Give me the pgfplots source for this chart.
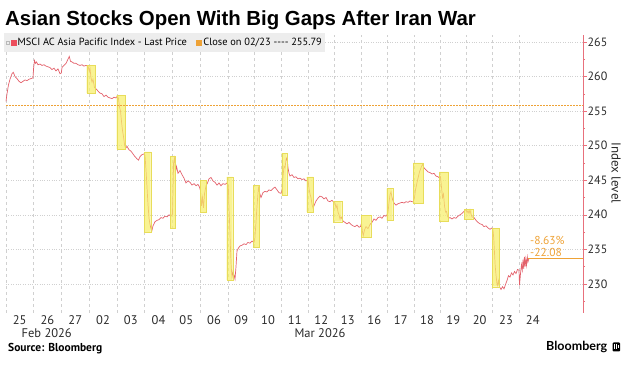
\documentclass[border=0pt]{standalone}
\usepackage{pgfplots}
\pgfplotsset{compat=1.18}
\usepackage{pgfplotstable}
\usepackage{fontspec}
\setmainfont{PT Sans}[Ligatures=NoCommon]
\newfontfamily\titlefont{Liberation Sans}
\newfontfamily\logofont{Lato}
\definecolor{linered}{HTML}{E3616B}
\definecolor{legendred}{HTML}{EC4E5C}
\definecolor{axisred}{HTML}{E8707C}
\definecolor{gapfill}{HTML}{F7EF6A}
\definecolor{gapedge}{HTML}{E8DD5A}
\definecolor{closeorange}{HTML}{EEA236}
\definecolor{gridgray}{HTML}{D0D0D0}
\definecolor{legendbg}{HTML}{EDEDED}
\definecolor{textgray}{HTML}{2A2A2A}

% x = time position (trading sessions laid side by side), y = index level
\pgfplotstableread{
x y
6 256.4
7 257.5
8.5 258.8
10 259.6
12 260.4
13.3 260.6
15 260.0
17 259.7
19 259.3
21 259.1
23 259.3
25 259.5
27 259.4
29 259.6
31 259.7
33 259.8
33.6 261.2
34.5 262.3
35.5 261.9
36.5 262.1
38 261.7
40 261.8
42 261.6
44 261.7
46 261.5
48 261.4
50 261.3
52 261.0
54 261.2
56 260.8
58 261.1
60 260.4
61.3 260.5
62 261.3
64 261.6
66 261.9
68 262.5
69.3 262.9
70.5 262.2
72 262.1
74 261.9
76 261.9
78 261.7
80 261.6
82 261.7
84 261.5
86 261.6
88 261.5
89.3 260.8
90 261.2
91 259.8
92 259.2
93 259.6
94.5 258.4
96 258.2
98 257.9
100 257.6
102 257.5
104 257.1
106 257.3
108 257.0
110 256.9
112 256.8
114 257.0
116 256.9
117.5 257.2
118.5 256.8
119.5 255.6
120.5 255.0
121.5 253.5
122.5 252.2
123.5 251.3
124.5 250.2
125.5 249.6
127 249.9
129 249.4
131 249.2
133 248.8
135 248.4
137 248.1
138.5 247.9
140 248.4
142 248.7
144 248.8
145 248.6
146 246.5
147 244.0
148 241.5
149 239.5
150 238.6
151 238.0
151.7 237.6
153 238.4
155 239.0
157 239.2
159 239.3
161 239.6
163 239.5
165 239.8
167 239.7
169 240.0
171 239.8
172.5 240.1
173.6 247.5
174.5 248.2
175.5 246.2
176.5 247.0
178 246.0
180 246.4
182 245.8
184 245.3
186 244.6
188 244.9
190 244.7
192 244.3
194 244.5
196 244.2
198 244.4
199.5 244.0
200.5 243.5
201.5 241.3
202.5 242.5
203.5 241.0
204.5 243.0
206 244.2
207.5 244.6
209 245.2
211 245.4
213 244.9
215 244.7
217 244.3
219 244.6
221 244.2
223 244.5
225 244.4
227 244.6
228.3 244.2
229 241.0
229.8 238.0
230.5 235.0
231.2 232.5
232 231.0
233 231.8
234 231.3
235 230.7
236 232.5
237 234.8
238.5 235.2
240 235.5
242 235.6
244 235.8
246 235.7
248 236.0
250 235.9
252 236.2
254 236.0
254.8 236.5
255.8 238.5
256.8 240.8
257.8 242.8
258.5 243.9
259.5 243.2
261 242.5
263 243.2
265 243.4
267 243.3
269 243.6
271 243.5
273 243.8
275 244.0
277 243.6
279 243.2
281 243.1
282 243.5
283 245.5
284 247.0
285 246.8
286 247.9
287 248.3
288 246.8
289 246.0
290 245.6
292 245.8
294 245.4
296 245.5
298 245.2
300 245.3
302 245.1
304 245.2
306 244.9
307.5 245.0
308.3 244.8
309 243.8
310 243.0
311 242.5
312 241.5
313 241.0
314 241.3
316 242.0
318 242.4
320 242.7
322 242.6
324 242.3
326 242.5
328 242.0
330 241.9
332 242.1
334 241.8
335 241.7
336 241.0
337 241.4
338 240.4
339 240.0
340 239.4
341 239.7
343 239.1
345 238.9
347 238.7
349 238.9
351 238.6
353 238.4
355 238.3
357 238.5
359 238.2
360.5 238.3
361.5 238.8
362.5 237.5
363.3 237.0
364.5 237.8
366 238.3
368 238.0
370 238.6
372 238.9
374 239.4
376 239.2
378 239.6
380 239.7
382 239.5
384 239.9
386 239.8
387 240.0
388 240.3
389 241.8
390 242.9
391 243.3
392 242.5
393 242.0
394 241.7
396 241.4
398 241.6
400 241.7
402 241.8
404 241.7
406 241.9
408 241.8
410 242.0
412 241.9
413.5 241.9
414.5 242.5
415.5 243.6
416.5 244.3
417.5 245.0
418.5 245.6
419.5 246.2
420.5 246.6
421.5 247.0
422.7 247.3
424 246.8
426 246.5
428 246.2
430 246.1
432 245.9
434 246.0
436 245.6
438 245.5
439.5 245.3
440.5 245.5
441.5 244.0
442.5 242.5
443.5 243.0
444.5 241.3
445.5 240.4
446.5 240.5
447.5 239.8
448.5 239.5
450 239.6
452 239.4
454 239.6
456 239.5
458 239.8
460 240.0
462 240.2
464 240.5
466 240.8
467 240.3
468 240.6
469 240.2
470 240.7
471 240.1
472 239.7
474 239.6
476 239.2
478 238.9
480 238.7
482 238.6
484 238.3
486 238.4
488 238.1
490 237.9
492 238.1
493 237.8
493.8 236.5
494.5 234.5
495.2 232.6
496 231.3
496.8 230.2
497.6 229.8
498.5 230.5
499.5 229.6
501 229.2
502.5 229.6
504 229.3
505.5 229.9
507 230.5
508.5 231.2
510 231.0
511.5 231.6
513 231.3
514.5 231.8
516 231.5
517.5 232.1
519 232.0
519.5 229.8
520.5 231.5
521.5 232.8
522.3 232.0
523 233.5
523.7 232.2
524.4 233.9
525.1 232.5
525.8 233.6
526.5 232.7
527.3 233.9
528 233.2
529 233.71
}\pricedata

\newcommand{\gapbox}[4]{\addplot[gapbox] coordinates {(#1,#3) (#2,#3) (#2,#4) (#1,#4) (#1,#3)};}

\begin{document}
\begin{tikzpicture}[x=1pt,y=1pt]
\path[use as bounding box] (0,0) rectangle (632,369);
\begin{axis}[
  at={(6pt,56pt)}, anchor=south west,
  scale only axis, width=577pt, height=278pt,
  xmin=6, xmax=583, ymin=225.8, ymax=266,
  axis line style={draw=none},
  clip=false,
  xtick={19.75,47.5,75.25,103,130.75,158.5,186.25,214,241.25,268,294.75,321.25,347.75,374.25,400.75,427,453.25,479.6,506,532.8},
  xticklabels={25,26,27,02,03,04,05,06,09,10,11,12,13,16,17,18,19,20,23,24},
  xtick style={draw=none},
  minor xtick={6,33.5,61.5,89,117,144.5,172.5,200,228,254.5,281.5,308,334.5,361,387.5,414,440,466.5,492.7,519.3},
  xminorgrids=true,
  minor x grid style={gridgray, dash pattern=on 3pt off 3pt, line width=0.5pt},
  ytick={230,235,...,265},
  minor ytick={227.5,232.5,...,262.5},
  ymajorgrids=true,
  major y grid style={gridgray, dotted, line width=0.5pt},
  ytick pos=right, yticklabel pos=right,
  ytick style={axisred, line width=0.5pt},
  tick align=outside,
  major tick length=3.5pt, minor tick length=2pt,
  /pgf/number format/assume math mode=true,
  yticklabel style={font=\fontsize{12}{12}\selectfont, text=textgray, inner xsep=1pt},
  xticklabel style={font=\fontsize{12.5}{12.5}\selectfont, text=textgray, yshift=4pt},
  legend style={at={(rel axis cs:0,1)}, anchor=north west, xshift=-2pt, yshift=2pt,
    fill=legendbg, draw=none, legend columns=2, font=\fontsize{10.4}{10.4}\selectfont,
    inner xsep=2pt, inner ysep=3pt,
    /tikz/every odd column/.append style={column sep=0pt},
    /tikz/every even column/.append style={column sep=8pt},
    nodes={inner xsep=1.5pt}},
  gapbox/.style={draw=gapedge, line width=0.4pt, fill=gapfill, fill opacity=0.72, forget plot},
]
\addplot[linered, line width=0.7pt, forget plot] table[x=x,y=y] {\pricedata};
\gapbox{86.7}{95}{261.6}{257.6}
\gapbox{116.7}{125.5}{257.3}{249.5}
\gapbox{144.3}{150.7}{249.1}{237.5}
\gapbox{170}{175.3}{248.5}{238.1}
\gapbox{200}{206.5}{245.0}{240.4}
\gapbox{226.7}{232.7}{245.5}{230.6}
\gapbox{253.3}{259.3}{244.3}{235.3}
\gapbox{281.7}{286.7}{248.9}{242.8}
\gapbox{306.7}{313.3}{245.5}{240.4}
\gapbox{333.3}{341.7}{241.9}{239.0}
\gapbox{361}{370.7}{239.9}{236.7}
\gapbox{386.7}{392.7}{243.8}{239.2}
\gapbox{413.3}{423.3}{247.5}{241.7}
\gapbox{439.3}{448.3}{246.2}{239.1}
\gapbox{464}{472.7}{240.8}{239.3}
\gapbox{492.3}{499.3}{238.0}{229.6}
\addplot[closeorange, line width=0.7pt, forget plot] coordinates {(528,233.71) (583,233.71)};
\draw[closeorange, line width=0.9pt, dash pattern=on 2pt off 1pt] (axis cs:6,255.79) -- (axis cs:583,255.79);
\draw[axisred, line width=0.6pt] (rel axis cs:1,0) -- (rel axis cs:1,1);
\addlegendimage{legend image code/.code={\draw[gray!55,line width=0.4pt] (-1.5pt,-1.5pt) rectangle (1.2pt,1.5pt); \fill[legendred] (3pt,-2.6pt) rectangle (8pt,2.6pt);}}
\addlegendimage{legend image code/.code={\fill[closeorange] (0pt,-2.6pt) rectangle (5pt,2.6pt);}}
\legend{MSCI AC Asia Pacific Index - Last Price, Close on 02/23 -{}-{}-{}- 255.79}
\end{axis}

% title
\node[anchor=base west, inner sep=0pt, text=black] at (5,343)
  {\titlefont\bfseries\fontsize{20.4}{20.4}\selectfont Asian Stocks Open With Big Gaps After Iran War};
% y label
\node[rotate=-90, text=textgray, inner sep=0pt] at (616,196) {\fontsize{13}{13}\selectfont Index level};
% annotation of last value
\node[anchor=west, inner sep=0pt, text=closeorange] at (530,129) {\fontsize{11.5}{11.5}\selectfont -8.63\%};
\node[anchor=west, inner sep=0pt, text=closeorange] at (530,116.7) {\fontsize{11.5}{11.5}\selectfont -22.08};
% month labels
\node[text=textgray, inner sep=0pt] at (46.7,35.7) {\fontsize{12.5}{12.5}\selectfont Feb 2026};
\node[text=textgray, inner sep=0pt] at (320,35.7) {\fontsize{12.5}{12.5}\selectfont Mar 2026};
% source
\node[anchor=west, inner sep=0pt] at (8,20.7) {\bfseries\fontsize{11.5}{11.5}\selectfont Source: Bloomberg};
% logo
\node[anchor=west, inner sep=0pt] at (546,22) {\logofont\bfseries\fontsize{12.5}{12.5}\selectfont Bloomberg};
\fill[black, rounded corners=1pt] (612.5,17.5) rectangle (620,26.5);
\fill[white] (614,20) rectangle (614.9,24.5);
\fill[white] (616,19.5) rectangle (616.9,24.8);
\fill[white] (618,21) rectangle (618.9,24);
\end{tikzpicture}
\end{document}
